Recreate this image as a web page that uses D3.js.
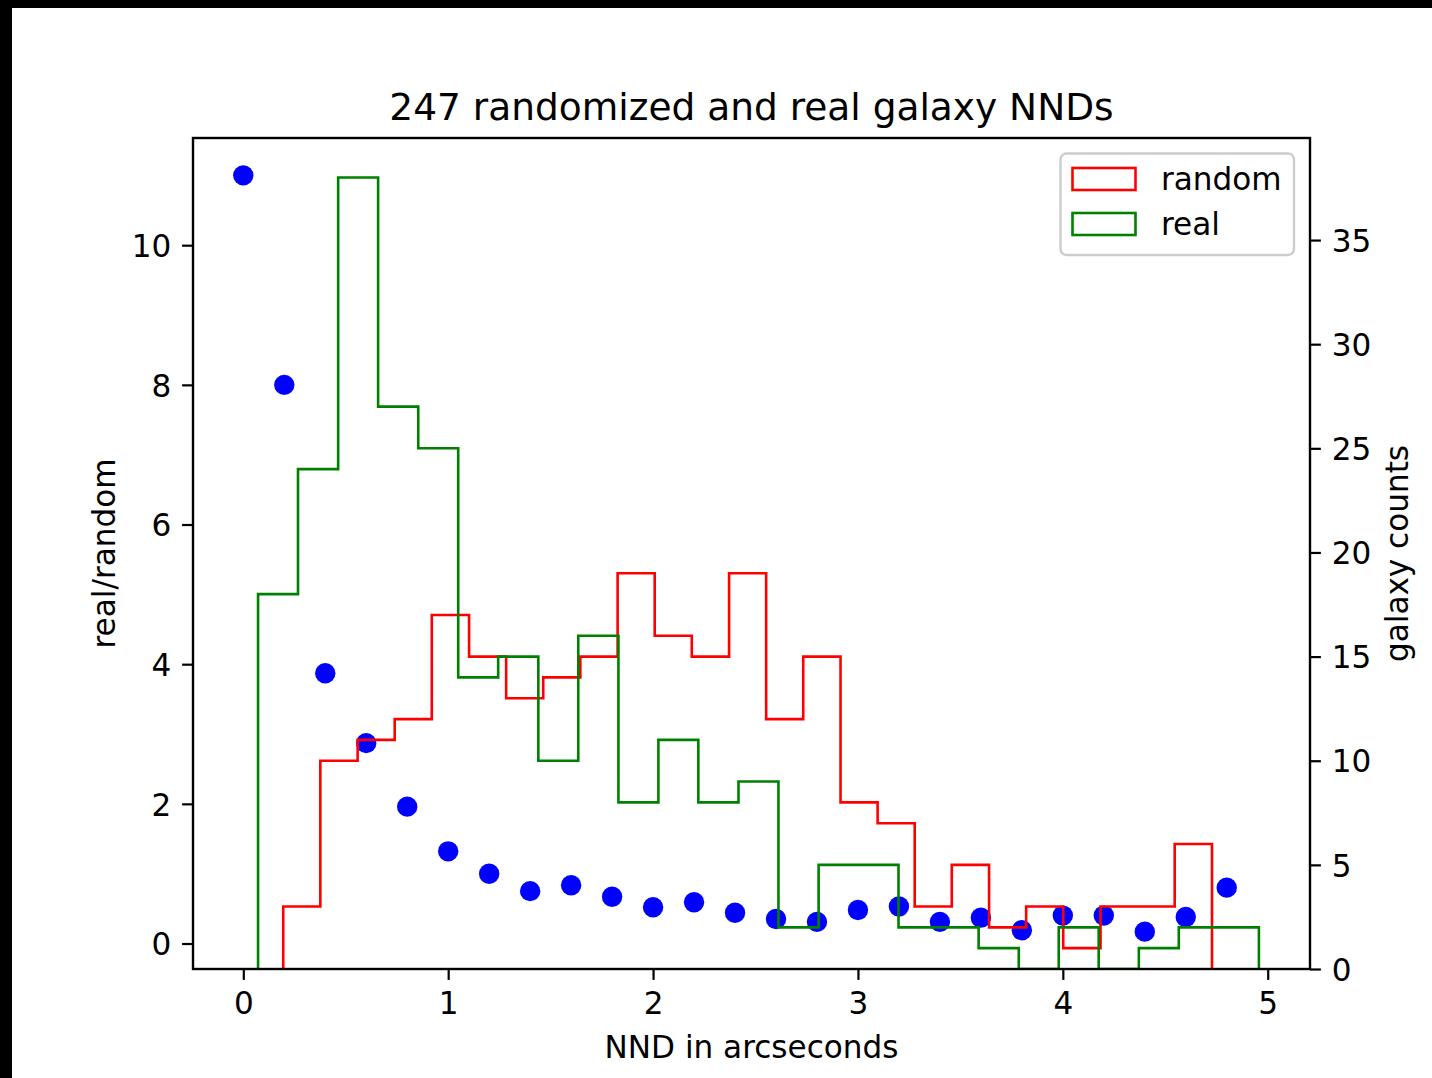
<!DOCTYPE html>
<html>
<head>
<meta charset="utf-8">
<script src="https://cdn.jsdelivr.net/npm/d3@7"></script>
<style>
  html, body { margin: 0; padding: 0; background: #fff; }
  svg { display: block; }
  text { font-family: "DejaVu Sans", sans-serif; fill: #000; }
</style>
</head>
<body>
<svg id="chart" width="1432" height="1078"></svg>
<script>
// ---- data ----
const ratioX = [0, 0.2, 0.4, 0.6, 0.8, 1.0, 1.2, 1.4, 1.6, 1.8, 2.0, 2.2, 2.4, 2.6, 2.8, 3.0, 3.2, 3.4, 3.6, 3.8, 4.0, 4.2, 4.4, 4.6, 4.8];
const ratioY = [11.0, 8.0, 3.87, 2.87, 1.96, 1.32, 1.0, 0.75, 0.835, 0.67, 0.52, 0.59, 0.44, 0.35, 0.31, 0.48, 0.53, 0.31, 0.37, 0.19, 0.40, 0.40, 0.17, 0.38, 0.80];

const randomEdges = [0.195, 0.376, 0.558, 0.739, 0.920, 1.102, 1.283, 1.464, 1.645, 1.827, 2.008, 2.189, 2.371, 2.552, 2.733, 2.915, 3.096, 3.277, 3.458, 3.640, 3.821, 4.002, 4.184, 4.365, 4.546, 4.728];
const randomCounts = [3, 10, 11, 12, 17, 15, 13, 14, 15, 19, 16, 15, 19, 12, 15, 8, 7, 3, 5, 2, 3, 1, 3, 3, 6];

const realEdges = [0.072, 0.267, 0.463, 0.658, 0.854, 1.049, 1.244, 1.440, 1.635, 1.831, 2.026, 2.221, 2.417, 2.612, 2.808, 3.003, 3.198, 3.394, 3.589, 3.785, 3.980, 4.175, 4.371, 4.566, 4.762, 4.957];
const realCounts = [18, 24, 38, 27, 25, 14, 15, 10, 16, 8, 11, 8, 9, 2, 5, 5, 2, 2, 1, 0, 2, 0, 1, 2, 2];

const xTicks = [0, 1, 2, 3, 4, 5];
const yLeftTicks = [0, 2, 4, 6, 8, 10];
const yRightTicks = [0, 5, 10, 15, 20, 25, 30, 35];

const titleText = "247 randomized and real galaxy NNDs";
const xLabel = "NND in arcseconds";
const yLeftLabel = "real/random";
const yRightLabel = "galaxy counts";
const legendLabels = ["random", "real"];

// ---- layout ----
const svg = d3.select("#chart");
const L = 193, R = 1310, T = 138, B = 969;
const FS = 31.1;
const lw = 2.6;

// black frame strips seen in reference
svg.append("rect").attr("x", 0).attr("y", 0).attr("width", 1432).attr("height", 8).attr("fill", "#000");
svg.append("rect").attr("x", 0).attr("y", 0).attr("width", 12).attr("height", 1078).attr("fill", "#000");

const x = d3.scaleLinear().domain([-0.2455, 5.2064]).range([L, R]);
const yL = d3.scaleLinear().domain([-0.365, 11.535]).range([B, T]);
const yR = d3.scaleLinear().domain([0, 39.9]).range([B, T]);

// clip
svg.append("defs").append("clipPath").attr("id", "clip")
  .append("rect").attr("x", L).attr("y", T).attr("width", R - L).attr("height", B - T);

const plot = svg.append("g").attr("clip-path", "url(#clip)");

// scatter
plot.selectAll("circle.pt").data(ratioX).join("circle")
  .attr("class", "pt")
  .attr("cx", d => x(d))
  .attr("cy", (d, i) => yL(ratioY[i]))
  .attr("r", 10.2)
  .attr("fill", "#0000ff");

// step histograms
function stepPoints(edges, counts) {
  const pts = [[edges[0], 0]];
  counts.forEach((c, i) => pts.push([edges[i], c]));
  pts.push([edges[edges.length - 1], counts[counts.length - 1]]);
  pts.push([edges[edges.length - 1], 0]);
  return pts;
}
const stepLine = d3.line().x(d => x(d[0])).y(d => yR(d[1])).curve(d3.curveStepAfter);

plot.append("path").attr("d", stepLine(stepPoints(randomEdges, randomCounts)))
  .attr("fill", "none").attr("stroke", "#ff0000").attr("stroke-width", lw).attr("stroke-linejoin", "miter");
plot.append("path").attr("d", stepLine(stepPoints(realEdges, realCounts)))
  .attr("fill", "none").attr("stroke", "#008000").attr("stroke-width", lw).attr("stroke-linejoin", "miter");

// axes
const tickLen = 10.9, tickPad = 10.9;
const axB = d3.axisBottom(x).tickValues(xTicks).tickFormat(d3.format("d")).tickSize(tickLen).tickPadding(tickPad);
const axL = d3.axisLeft(yL).tickValues(yLeftTicks).tickFormat(d3.format("d")).tickSize(tickLen).tickPadding(tickPad);
const axR = d3.axisRight(yR).tickValues(yRightTicks).tickFormat(d3.format("d")).tickSize(tickLen).tickPadding(tickPad);

function styleAxis(g) {
  g.select(".domain").remove();
  g.selectAll(".tick line").attr("stroke", "#000").attr("stroke-width", 2.2);
  g.selectAll(".tick text").style("font-family", "DejaVu Sans").style("font-size", FS + "px").attr("fill", "#000");
}
svg.append("g").attr("transform", `translate(0,${B})`).call(axB).call(styleAxis)
  .selectAll(".tick text").attr("dy", "0.76em");
svg.append("g").attr("transform", `translate(${L},0)`).call(axL).call(styleAxis)
  .selectAll(".tick text").attr("dy", "0.36em");
svg.append("g").attr("transform", `translate(${R},0)`).call(axR).call(styleAxis)
  .selectAll(".tick text").attr("dy", "0.36em");

// spines
svg.append("rect").attr("x", L).attr("y", T).attr("width", R - L).attr("height", B - T)
  .attr("fill", "none").attr("stroke", "#000").attr("stroke-width", 2.4);

// title & labels
svg.append("text").attr("x", (L + R) / 2).attr("y", 120).attr("text-anchor", "middle")
  .style("font-size", "37.5px").text(titleText);
svg.append("text").attr("x", (L + R) / 2).attr("y", 1058).attr("text-anchor", "middle")
  .style("font-size", FS + "px").text(xLabel);
svg.append("text").attr("transform", `translate(115,${(T + B) / 2}) rotate(-90)`).attr("text-anchor", "middle")
  .style("font-size", FS + "px").text(yLeftLabel);
svg.append("text").attr("transform", `translate(1408,${(T + B) / 2}) rotate(-90)`).attr("text-anchor", "middle")
  .style("font-size", FS + "px").text(yRightLabel);

// legend
const lg = svg.append("g");
lg.append("rect").attr("x", 1060.5).attr("y", 153.5).attr("width", 233.5).attr("height", 101.5)
  .attr("rx", 6).attr("ry", 6).attr("fill", "#fff").attr("fill-opacity", 0.8)
  .attr("stroke", "#cccccc").attr("stroke-width", 2.4);
const legColors = ["#ff0000", "#008000"];
legendLabels.forEach((lab, i) => {
  const cy = 179 + i * 45;
  lg.append("rect").attr("x", 1072.5).attr("y", cy - 11).attr("width", 63).attr("height", 22)
    .attr("fill", "none").attr("stroke", legColors[i]).attr("stroke-width", lw);
  lg.append("text").attr("x", 1161).attr("y", cy).attr("dy", "0.36em")
    .style("font-size", FS + "px").text(lab);
});
</script>
</body>
</html>
